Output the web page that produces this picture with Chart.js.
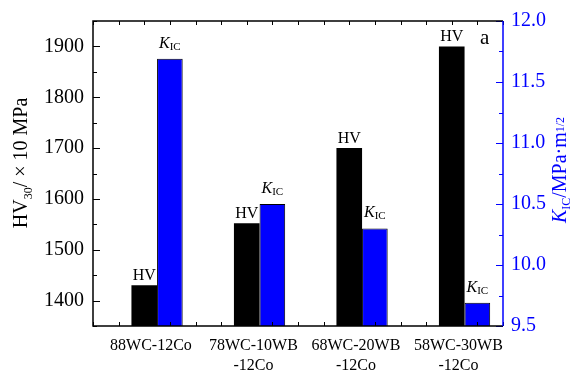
<!DOCTYPE html>
<html><head><meta charset="utf-8">
<script src="https://cdn.jsdelivr.net/npm/chart.js@4/dist/chart.umd.min.js"></script>
<style>html,body{margin:0;padding:0;background:#fff;} #wrap{width:586px;height:372px;}</style>
</head><body><div id="wrap"><canvas id="c" width="586" height="372"></canvas></div>
<script>
const categories = [["88WC-12Co"], ["78WC-10WB", "-12Co"], ["68WC-20WB", "-12Co"], ["58WC-30WB", "-12Co"]];
const categoryPositions = [1, 2, 3, 4];
const hvValues = [1430, 1552, 1700, 1900];
const kicValues = [11.69, 10.50, 10.30, 9.69];
const hvTicks = [1400, 1500, 1600, 1700, 1800, 1900];
const kicTicks = [9.5, 10.0, 10.5, 11.0, 11.5, 12.0];

const SERIF = "'Liberation Serif', 'Times New Roman', serif";
const BLUE = '#0000ff';
const X_MIN = 0.375, X_MAX = 4.375;

function drawRich(ctx, segs, x, y, rot, color) {
  ctx.save();
  ctx.translate(x, y);
  ctx.rotate(rot);
  ctx.fillStyle = color;
  ctx.textBaseline = 'alphabetic';
  ctx.textAlign = 'left';
  let total = 0;
  segs.forEach(s => { ctx.font = s.font; s.w = ctx.measureText(s.text).width; total += s.w + (s.gap || 0); });
  let cx = -total / 2;
  segs.forEach(s => { ctx.font = s.font; ctx.fillText(s.text, cx, s.dy || 0); cx += s.w + (s.gap || 0); });
  ctx.restore();
}

const decorPlugin = {
  id: 'decor',
  afterDatasetsDraw(chart) {
    const ctx = chart.ctx;
    const a = chart.chartArea;
    const y = chart.scales.y, y2 = chart.scales.y2, x = chart.scales.x;
    ctx.save();
    // ticks
    ctx.lineWidth = 1;
    ctx.strokeStyle = '#000';
    for (let v = 1350; v <= 1950; v += 50) {
      const p = Math.round(y.getPixelForValue(v)) + 0.5;
      const len = (v % 100 === 0) ? 7 : 4;
      ctx.beginPath(); ctx.moveTo(a.left, p); ctx.lineTo(a.left + len, p); ctx.stroke();
    }
    for (let k = 0; k <= 16; k++) {
      const xv = X_MIN + k * 0.25;
      const p = Math.round(x.getPixelForValue(xv)) + 0.5;
      ctx.beginPath(); ctx.moveTo(p, a.top); ctx.lineTo(p, a.top + 4); ctx.stroke();
      ctx.beginPath(); ctx.moveTo(p, a.bottom); ctx.lineTo(p, a.bottom - 4); ctx.stroke();
    }
    ctx.strokeStyle = BLUE;
    for (let k = 0; k <= 10; k++) {
      const v = 9.5 + k * 0.25;
      const p = Math.round(y2.getPixelForValue(v)) + 0.5;
      const len = (k % 2 === 0) ? 7 : 4;
      ctx.beginPath(); ctx.moveTo(a.right, p); ctx.lineTo(a.right - len, p); ctx.stroke();
    }
    // frame
    ctx.lineWidth = 1.5;
    ctx.strokeStyle = '#000';
    ctx.beginPath();
    ctx.moveTo(a.right, a.top); ctx.lineTo(a.left, a.top); ctx.lineTo(a.left, a.bottom); ctx.lineTo(a.right, a.bottom);
    ctx.stroke();
    ctx.strokeStyle = BLUE;
    ctx.beginPath(); ctx.moveTo(a.right, a.top); ctx.lineTo(a.right, a.bottom); ctx.stroke();

    // category labels (centered slightly left of each group, as in the figure)
    ctx.fillStyle = '#000';
    ctx.font = '16px ' + SERIF;
    ctx.textAlign = 'center';
    ctx.textBaseline = 'alphabetic';
    categories.forEach((lines, i) => {
      const px = x.getPixelForValue(categoryPositions[i] - 0.06);
      lines.forEach((t, j) => ctx.fillText(t, px, a.bottom + 24 + j * 20));
    });

    // bar labels
    const m0 = chart.getDatasetMeta(0), m1 = chart.getDatasetMeta(1);
    m0.data.forEach(el => {
      drawRich(ctx, [{ text: 'HV', font: '16px ' + SERIF }], el.x, el.y - 5, 0, '#000');
    });
    m1.data.forEach(el => {
      drawRich(ctx, [{ text: 'K', font: 'italic 16px ' + SERIF }, { text: 'IC', font: '11px ' + SERIF, dy: 2 }], el.x, el.y - 11, 0, '#000');
    });
    // panel letter
    ctx.fillStyle = '#000';
    ctx.font = '21px ' + SERIF;
    ctx.textAlign = 'left';
    ctx.fillText('a', 480, 44);

    // axis titles
    drawRich(ctx, [
      { text: 'HV', font: '20px ' + SERIF },
      { text: '30', font: '12px ' + SERIF, dy: 5 },
      { text: '/ × 10 MPa', font: '20px ' + SERIF }
    ], 27, 163, -Math.PI / 2, '#000');
    drawRich(ctx, [
      { text: 'K', font: 'italic 20px ' + SERIF },
      { text: 'IC', font: '12px ' + SERIF, dy: 4 },
      { text: '/MPa·m', font: '20px ' + SERIF },
      { text: '1/2', font: '12px ' + SERIF, dy: -2 }
    ], 566, 170, -Math.PI / 2, BLUE);
    ctx.restore();
  }
};

new Chart(document.getElementById('c'), {
  type: 'bar',
  data: {
    datasets: [
      {
        label: 'HV',
        data: categoryPositions.map((p, i) => ({ x: p, y: hvValues[i] })),
        backgroundColor: '#000000',
        borderColor: '#000000',
        borderWidth: 0,
        xAxisID: 'x', yAxisID: 'y'
      },
      {
        label: 'KIC',
        data: categoryPositions.map((p, i) => ({ x: p, y: kicValues[i] })),
        backgroundColor: BLUE,
        borderColor: '#000000',
        borderWidth: 1,
        xAxisID: 'x', yAxisID: 'y2'
      }
    ]
  },
  options: {
    responsive: false,
    animation: false,
    devicePixelRatio: 1,
    layout: { padding: { top: 20, left: 0, right: 0, bottom: 46 } },
    datasets: { bar: { categoryPercentage: 0.5, barPercentage: 1.0 } },
    plugins: { legend: { display: false }, tooltip: { enabled: false } },
    scales: {
      x: {
        type: 'linear', min: X_MIN, max: X_MAX, display: false, offset: false,
        afterBuildTicks: s => { s.ticks = categoryPositions.map(v => ({ value: v })); }
      },
      y: {
        type: 'linear', position: 'left', min: 1350, max: 1950,
        afterBuildTicks: s => { s.ticks = hvTicks.map(v => ({ value: v })); },
        ticks: { font: { family: SERIF, size: 20 }, color: '#000', padding: 9, callback: v => String(v) },
        grid: { display: false, drawTicks: false },
        border: { display: false },
        afterFit: s => { s.width = 93; }
      },
      y2: {
        type: 'linear', position: 'right', min: 9.5, max: 12,
        afterBuildTicks: s => { s.ticks = kicTicks.map(v => ({ value: v })); },
        ticks: { font: { family: SERIF, size: 20 }, color: BLUE, padding: 8, callback: v => Number(v).toFixed(1) },
        grid: { display: false, drawTicks: false },
        border: { display: false },
        afterFit: s => { s.width = 83; }
      }
    }
  },
  plugins: [decorPlugin]
});
</script>
</body></html>
